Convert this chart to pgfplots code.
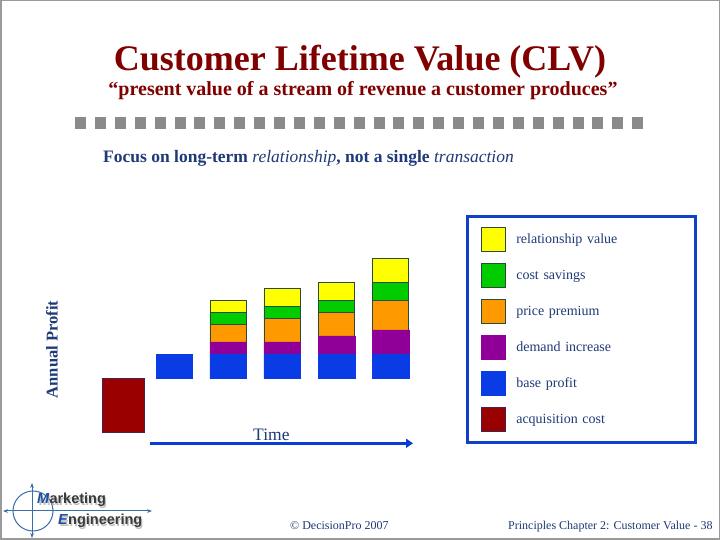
\documentclass[border=0pt]{standalone}
\usepackage{pgfplots}
\pgfplotsset{compat=1.18}
\usepackage{fontspec}
\setmainfont{Liberation Serif}
\newfontfamily\logofont{Liberation Sans}
\usetikzlibrary{arrows.meta}
\definecolor{titlered}{HTML}{800000}
\definecolor{navy}{HTML}{1F3A78}
\definecolor{barred}{HTML}{990000}
\definecolor{redline}{HTML}{4A2050}
\definecolor{barblue}{HTML}{0A3CE6}
\definecolor{barpurple}{HTML}{900099}
\definecolor{barorange}{HTML}{FF9900}
\definecolor{bargreen}{HTML}{00CC00}
\definecolor{baryellow}{HTML}{FFFF00}
\definecolor{outline}{HTML}{2A4A3A}
\definecolor{legblue}{HTML}{1040C8}
\definecolor{arrowblue}{HTML}{0A3CD8}
\definecolor{sqgray}{HTML}{8A8A8A}
\definecolor{framegray}{HTML}{9A9A9A}
\definecolor{logoblue}{HTML}{3A6EA8}
\definecolor{logotext}{HTML}{3A3A3A}
\definecolor{logoM}{HTML}{1E4E9E}
\pgfplotsset{
  sqleg/.style={/pgfplots/legend image code/.code={\draw[##1, line width=0.8pt] (0pt,-12pt) rectangle (24pt,12pt);}},
  slide axis/.style={at={(0,0)}, anchor=south west, width=720pt, height=540pt, scale only axis,
    xmin=0, xmax=720, ymin=-161.7, ymax=378.3, hide axis, clip=false},
}
\begin{document}
\begin{tikzpicture}[x=1pt,y=1pt]
\path[use as bounding box] (0,0) rectangle (720,540);
\fill[white] (0,0) rectangle (720,540);

% title block
\node[anchor=base, text=titlered, font=\fontsize{36}{40}\selectfont\bfseries, inner sep=0pt] at (360,469) {Customer Lifetime Value (CLV)};
\node[anchor=base, text=titlered, font=\fontsize{20}{24}\selectfont\bfseries, inner sep=0pt] at (363,444.5) {“present value of a stream of revenue a customer produces”};
\foreach \i in {0,...,28} { \fill[sqgray] ({75+19.9*\i},411) rectangle ++(11,12); }
\node[anchor=base west, text=navy, font=\fontsize{17.5}{20}\selectfont\bfseries, inner sep=0pt] at (103,377) {Focus on long-term \textit{\mdseries relationship}, not a single \textit{\mdseries transaction}};

% axis A: acquisition + first base profit
\begin{axis}[slide axis, ybar]
\addplot[fill=barred, draw=redline, line width=0.8pt, bar width=41.6, bar shift=0pt] coordinates {(123.5,-54)};
\addplot[fill=barblue, draw=barblue, line width=0.5pt, bar width=36.7, bar shift=0pt] coordinates {(174.3,24.3)};
\end{axis}

% axis B: stacked bars + legend
\begin{axis}[slide axis, ybar stacked, bar width=36.7, reverse legend,
  every axis plot post/.append style={sqleg},
  legend style={at={(0.64931,0.59907)}, anchor=north west, draw=legblue, line width=3pt, fill=white, outer sep=0pt,
    inner xsep=13pt, inner ysep=10.5pt, row sep=11.2pt, column sep=11pt,
    nodes={inner sep=0pt, outer sep=0pt, text=navy, font=\fontsize{14}{16}\selectfont, text width=166pt, align=left, anchor=west}},
  legend cell align=left]
\addlegendimage{fill=barred, draw=redline, sqleg}
\addlegendentry{acquisition cost}
\addplot[fill=barblue, draw=barblue, line width=0.5pt] coordinates {(228.3,24.3) (282.3,24.3) (336.5,24.3) (390.5,24.3)};
\addlegendentry{base profit}
\addplot[fill=barpurple, draw=barpurple, line width=0.5pt] coordinates {(228.3,12) (282.3,12) (336.5,18) (390.5,24)};
\addlegendentry{demand increase}
\addplot[fill=barorange, draw=outline, line width=0.8pt] coordinates {(228.3,17.3) (282.3,23.3) (336.5,23.7) (390.5,29.3)};
\addlegendentry{price premium}
\addplot[fill=bargreen, draw=outline, line width=0.8pt] coordinates {(228.3,12.3) (282.3,12.3) (336.5,12) (390.5,18.3)};
\addlegendentry{cost savings}
\addplot[fill=baryellow, draw=outline, line width=0.8pt] coordinates {(228.3,12) (282.3,18) (336.5,18) (390.5,24)};
\addlegendentry{relationship value}
\end{axis}

% axis annotations
\node[rotate=90, text=navy, font=\fontsize{16.5}{20}\selectfont\bfseries, inner sep=0pt] at (52,190.5) {Annual Profit};
\node[anchor=base west, text=navy, font=\fontsize{17.5}{20}\selectfont, inner sep=0pt] at (253,99) {Time};
\draw[arrowblue, line width=3.5pt, -{Triangle[length=7pt,width=9pt]}] (150,96.7) -- (413,96.7);

% footer
\node[anchor=base west, text=navy, font=\fontsize{12}{14}\selectfont, inner sep=0pt] at (290,10) {© DecisionPro 2007};
\node[anchor=base west, text=navy, font=\fontsize{12}{14}\selectfont, inner sep=0pt] at (508,10) {Principles Chapter 2: Customer Value - 38};

% logo
\draw[logoblue, line width=1pt] (33,29) circle (20);
\draw[logoblue, line width=1pt, {Stealth[length=5pt]}-{Stealth[length=5pt]}] (3,29) -- (152,29);
\draw[logoblue, line width=1pt, {Stealth[length=5pt]}-{Stealth[length=5pt]}] (32,2) -- (32,57);
\node[anchor=base west, text=black!35, opacity=0.7, font=\logofont\bfseries\fontsize{14.5}{16}\selectfont, inner sep=0pt] at (38.5,34.5) {Marketing};
\node[anchor=base west, text=logotext, font=\logofont\bfseries\fontsize{14.5}{16}\selectfont, inner sep=0pt] at (37,36) {\textcolor{logoM}{\textit{M}}arketing};
\node[anchor=base west, text=black!35, opacity=0.7, font=\logofont\bfseries\fontsize{14.5}{16}\selectfont, inner sep=0pt] at (59.5,13.5) {Engineering};
\node[anchor=base west, text=logotext, font=\logofont\bfseries\fontsize{14.5}{16}\selectfont, inner sep=0pt] at (58,15) {\textcolor{logoM}{\textit{E}}ngineering};

% frame
\draw[framegray, line width=1.5pt] (0.75,0.75) rectangle (719.25,539.25);
\end{tikzpicture}
\end{document}
